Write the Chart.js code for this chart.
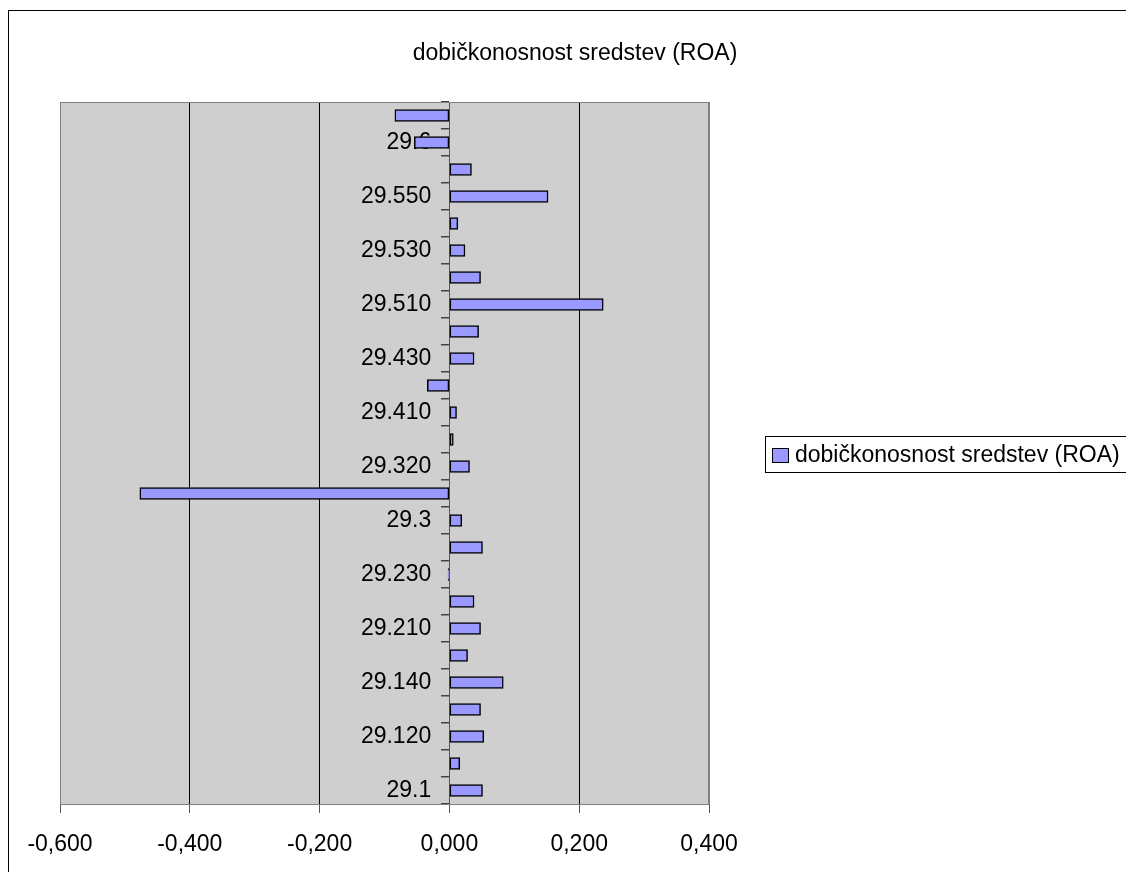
<!DOCTYPE html>
<html>
<head>
<meta charset="utf-8">
<script src="https://cdn.jsdelivr.net/npm/chart.js@4"></script>
<style>
  body { margin: 0; background: #fff; }
</style>
</head>
<body>
<canvas id="roaChart" width="1126" height="872"></canvas>
<script>
// categories from bottom to top (only every other one is labelled in the chart)
const categories = ['29.1', '29.110', '29.120', '29.130', '29.140', '29.200', '29.210', '29.220', '29.230', '29.240',
    '29.3', '29.310', '29.320', '29.400', '29.410', '29.420', '29.430', '29.500', '29.510', '29.520',
    '29.530', '29.540', '29.550', '29.560', '29.6', '29.7'];
const roaValues = [0.051, 0.016, 0.053, 0.048, 0.083, 0.028, 0.048, 0.038, -0.002, 0.051,
    0.019, -0.477, 0.031, 0.006, 0.011, -0.034, 0.038, 0.045, 0.237, 0.048,
    0.024, 0.013, 0.152, 0.034, -0.054, -0.084];
const seriesName = 'dobičkonosnost sredstev (ROA)';
const chartTitle = 'dobičkonosnost sredstev (ROA)';

const FONT = '"Liberation Sans", Arial, sans-serif';

// border, plot background, title and legend box like the Excel original
const excelFrame = {
    id: 'excelFrame',
    beforeDraw(chart) {
        const { ctx, chartArea: a } = chart;
        ctx.save();
        ctx.fillStyle = '#fff';
        ctx.fillRect(0, 0, chart.width, chart.height);
        ctx.strokeStyle = '#000';
        ctx.lineWidth = 1;
        ctx.strokeRect(8.5, 10.5, chart.width + 10, chart.height + 10);
        ctx.fillStyle = '#cfcfcf';
        ctx.fillRect(a.left, a.top, a.right - a.left, a.bottom - a.top);
        ctx.restore();
    },
    afterDraw(chart) {
        const { ctx, chartArea: a } = chart;
        ctx.save();
        ctx.strokeStyle = '#808080';
        ctx.lineWidth = 1;
        ctx.strokeRect(a.left + 0.5, a.top + 0.5, a.right - a.left - 1, a.bottom - a.top);

        ctx.fillStyle = '#000';
        ctx.font = '23px ' + FONT;
        ctx.textAlign = 'center';
        ctx.textBaseline = 'middle';
        ctx.fillText(chartTitle, 575, 54);

        // legend
        ctx.strokeStyle = '#000';
        ctx.strokeRect(765.5, 436.5, 380, 36);
        ctx.fillStyle = '#9999ff';
        ctx.fillRect(772.5, 448.5, 16, 14);
        ctx.strokeRect(772.5, 448.5, 16, 14);
        ctx.fillStyle = '#000';
        ctx.textAlign = 'left';
        ctx.fillText(chart.data.datasets[0].label, 795, 456);
        ctx.restore();
    }
};

new Chart(document.getElementById('roaChart'), {
    type: 'bar',
    data: {
        labels: categories,
        datasets: [{
            label: seriesName,
            data: roaValues,
            backgroundColor: '#9999ff',
            borderColor: '#000',
            borderWidth: 1.5,
            borderSkipped: false,
            barThickness: 12
        }]
    },
    options: {
        indexAxis: 'y',
        responsive: false,
        animation: false,
        devicePixelRatio: 1,
        layout: { padding: { left: 60, top: 102, right: 417, bottom: 0 } },
        plugins: {
            legend: { display: false },
            title: { display: false },
            tooltip: { enabled: false }
        },
        scales: {
            x: {
                type: 'linear',
                min: -0.6,
                max: 0.4,
                afterFit(scale) { scale.height = 68; },
                ticks: {
                    stepSize: 0.2,
                    color: '#000',
                    padding: 18,
                    font: { family: FONT, size: 23 },
                    callback: v => (Math.abs(v) < 1e-9 ? 0 : v).toFixed(3).replace('.', ',')
                },
                grid: {
                    color: c => (c.tick && (Math.abs(c.tick.value + 0.6) < 1e-9 || Math.abs(c.tick.value - 0.4) < 1e-9)) ? '#808080' : '#000',
                    tickColor: '#555',
                    tickLength: 9,
                    lineWidth: 1
                },
                border: { display: true, color: '#808080' }
            },
            // category axis line and tick marks, crossing at 0
            y: {
                type: 'category',
                reverse: true,
                position: { x: 0 },
                ticks: { display: false },
                grid: {
                    offset: true,
                    drawOnChartArea: false,
                    tickLength: 8,
                    tickColor: '#444',
                    lineWidth: 1.5
                },
                border: { display: true, color: '#555' }
            },
            // category labels, placed just left of the tick marks
            yLabels: {
                type: 'category',
                axis: 'y',
                reverse: true,
                offset: true,
                position: { x: -0.028 },
                ticks: {
                    autoSkip: false,
                    color: '#000',
                    font: { family: FONT, size: 23 },
                    callback: (v, i) => i % 2 === 0 ? categories[i] : ''
                },
                grid: { display: false },
                border: { display: false }
            }
        }
    },
    plugins: [excelFrame]
});
</script>
</body>
</html>
